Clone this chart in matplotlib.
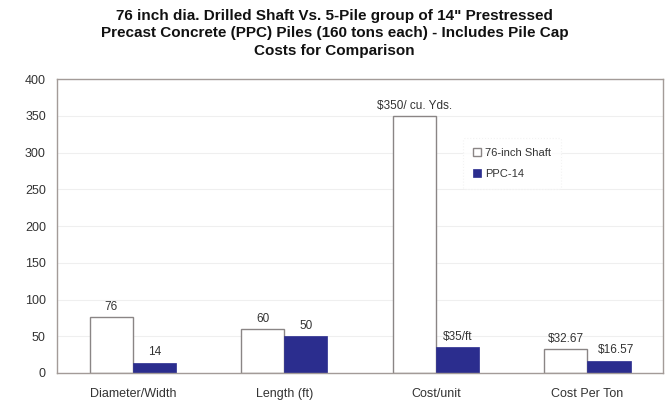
import numpy as np
import matplotlib
matplotlib.use("Agg")
import matplotlib.pyplot as plt

categorias = ["Diameter/Width", "Length (ft)", "Cost/unit", "Cost Per Ton"]
shaft = [76, 60, 350, 32.67]
ppc = [14, 50, 35, 16.57]
rotulos_shaft = ["76", "60", "$350/ cu. Yds.", "$32.67"]
rotulos_ppc = ["14", "50", "$35/ft", "$16.57"]
yticks = [0, 50, 100, 150, 200, 250, 300, 350, 400]

titulo = ("76 inch dia. Drilled Shaft Vs. 5-Pile group of 14\" Prestressed\n"
          "Precast Concrete (PPC) Piles (160 tons each) - Includes Pile Cap\n"
          "Costs for Comparison")

plt.rcParams["font.family"] = ["Liberation Sans", "DejaVu Sans"]

fig = plt.figure(figsize=(6.69, 4.08), dpi=100)
ax = fig.add_axes([0.0852, 0.0858, 0.906, 0.72])

x = np.arange(len(categorias))
larg = 0.285
azul = "#2b2d8e"

ax.bar(x - larg / 2, shaft, larg, color="white", edgecolor="#8a8585",
       linewidth=1.0, label="76-inch Shaft")
ax.bar(x + larg / 2, ppc, larg, color=azul, edgecolor=azul,
       linewidth=0.5, label="PPC-14")

for i, (r, v) in enumerate(zip(rotulos_shaft, shaft)):
    ax.text(x[i] - larg / 2, v + 6, r, ha="center", va="bottom",
            fontsize=8.5, color="#333333")
for i, (r, v) in enumerate(zip(rotulos_ppc, ppc)):
    dx = 0.05 if i == 3 else 0
    ax.text(x[i] + larg / 2 + dx, v + 6, r, ha="center", va="bottom",
            fontsize=8.5, color="#333333")

ax.set_xlim(-0.5, len(categorias) - 0.5)
ax.set_ylim(0, 400)
ax.set_yticks(yticks)
ax.set_xticks(x)
ax.set_xticklabels(categorias, fontsize=9, color="#333333")
ax.tick_params(axis="y", labelsize=9, colors="#333333", length=0, pad=8)
ax.tick_params(axis="x", length=0, pad=11)
ax.yaxis.grid(True, color="#efefef", linewidth=0.8)
ax.set_axisbelow(True)
for s in ax.spines.values():
    s.set_color("#a39b98")
    s.set_linewidth(1.0)

leg = ax.legend(loc="upper left", bbox_to_anchor=(0.66, 0.82), fontsize=8,
                frameon=True, handlelength=0.8, handleheight=0.8,
                handletextpad=0.3, labelspacing=1.0, borderpad=0.9)
leg.get_frame().set_edgecolor("#f0f0f0")
leg.get_frame().set_linestyle(":")
leg.get_frame().set_linewidth(0.8)
for t in leg.get_texts():
    t.set_color("#333333")

fig.text(0.5, 0.978, titulo, ha="center", va="top", fontsize=11,
         fontweight="bold", linespacing=1.3, color="#111111")

fig.savefig("out.png", dpi=100, facecolor="white")
plt.close(fig)
